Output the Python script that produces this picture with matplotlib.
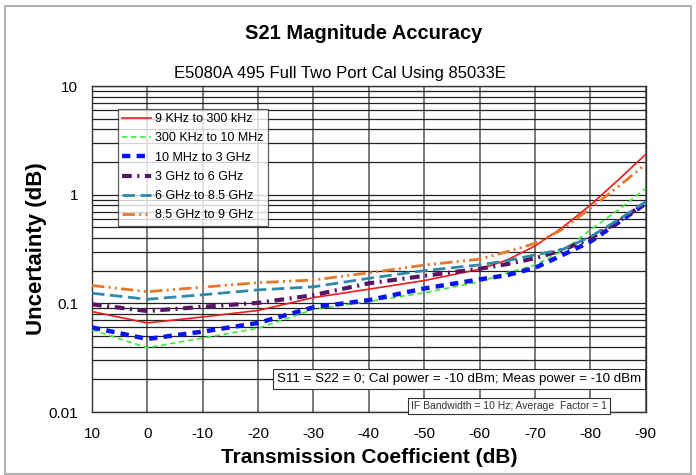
import matplotlib
matplotlib.use('Agg')
import matplotlib.pyplot as plt
from matplotlib.patches import Rectangle
from matplotlib.ticker import FixedLocator, LogLocator, NullFormatter

plt.rcParams['font.family'] = ['Liberation Sans', 'DejaVu Sans']
plt.rcParams['lines.scale_dashes'] = False

# transmission coefficient (dB)
x_vals = [10, 0, -10, -20, -30, -40, -50, -60, -65, -70, -75, -80, -85, -90]

# uncertainty (dB) per frequency band
unc_9k_300k = [0.084, 0.066, 0.075, 0.086, 0.113, 0.135, 0.162, 0.206, 0.251, 0.337, 0.50, 0.80, 1.36, 2.35]
unc_300k_10m = [0.057, 0.039, 0.048, 0.059, 0.088, 0.104, 0.125, 0.158, 0.191, 0.225, 0.303, 0.473, 0.72, 1.14]
unc_10m_3g = [0.060, 0.047, 0.055, 0.066, 0.092, 0.107, 0.137, 0.166, 0.182, 0.212, 0.279, 0.369, 0.552, 0.83]
unc_3g_6g = [0.098, 0.085, 0.093, 0.101, 0.119, 0.153, 0.179, 0.208, 0.23, 0.26, 0.31, 0.396, 0.564, 0.84]
unc_6g_85g = [0.124, 0.109, 0.120, 0.133, 0.142, 0.170, 0.20, 0.226, 0.247, 0.279, 0.314, 0.41, 0.585, 0.86]
unc_85g_9g = [0.146, 0.128, 0.141, 0.155, 0.164, 0.191, 0.225, 0.255, 0.299, 0.356, 0.48, 0.75, 1.18, 1.91]

labels = ['9 KHz to 300 kHz', '300 KHz to 10 MHz', '10 MHz to 3 GHz',
          '3 GHz to 6 GHz', '6 GHz to 8.5 GHz', '8.5 GHz to 9 GHz']
series = [unc_9k_300k, unc_300k_10m, unc_10m_3g, unc_3g_6g, unc_6g_85g, unc_85g_9g]
colors = ['#ee1c1c', '#3ee83e', '#0a14f0', '#5a1466', '#2e8aa8', '#e6782c']
widths = [1.2, 1.2, 3.2, 3.0, 2.0, 2.0]
dashes = [None, (4, 2.5), (6, 4.5), (7, 4, 1.5, 4), (9, 4), (9, 3, 1.5, 3, 1.5, 3)]
x_ticks = [10, 0, -10, -20, -30, -40, -50, -60, -70, -80, -90]

fig = plt.figure(figsize=(6.96, 4.75), dpi=100)
ax = fig.add_axes([0.1322, 0.1326, 0.7955, 0.6863])

for y, lab, c, lw, d in zip(series, labels, colors, widths, dashes):
    line, = ax.plot(x_vals, y, color=c, lw=lw, label=lab, zorder=3)
    if d is not None:
        line.set_dashes(d)

ax.set_yscale('log')
ax.set_ylim(0.01, 10)
ax.set_xlim(10, -90)
ax.xaxis.set_major_locator(FixedLocator(x_ticks))
ax.set_xticklabels([str(t) for t in x_ticks])
ax.yaxis.set_major_locator(FixedLocator([0.01, 0.1, 1, 10]))
ax.set_yticklabels(['0.01', '0.1', '1', '10'])
ax.yaxis.set_minor_locator(LogLocator(base=10, subs=range(2, 10)))
ax.yaxis.set_minor_formatter(NullFormatter())
ax.tick_params(axis='both', which='both', length=0, labelsize=11)
ax.tick_params(axis='x', pad=11)
ax.tick_params(axis='y', pad=10)

ax.grid(True, axis='y', which='both', color='#222222', lw=0.9)
ax.grid(True, axis='x', which='major', color='#555555', lw=1.1)
for s in ax.spines.values():
    s.set_color('#333333')
    s.set_linewidth(1.0)

ax.set_xlabel('Transmission Coefficient (dB)', fontsize=15, fontweight='bold', labelpad=5)
ax.set_ylabel('Uncertainty (dB)', fontsize=16, fontweight='bold', labelpad=1)

leg = ax.legend(loc='upper left', bbox_to_anchor=(0.047, 0.93), fontsize=9,
                frameon=True, fancybox=False, handlelength=2.3, handletextpad=0.3,
                labelspacing=0.58, borderpad=0.35, borderaxespad=0)
leg.get_frame().set_edgecolor('#333333')
leg.get_frame().set_linewidth(0.9)
leg.set_zorder(5)

fig.text(0.522, 0.93, 'S21 Magnitude Accuracy', ha='center', va='center',
         fontsize=14.5, fontweight='bold')
fig.text(0.489, 0.846, 'E5080A 495 Full Two Port Cal Using 85033E', ha='center', va='center',
         fontsize=12, bbox=dict(facecolor='white', edgecolor='none', pad=3), zorder=10)

ax.text(0.992, 0.101, 'S11 = S22 = 0; Cal power = -10 dBm; Meas power = -10 dBm',
        transform=ax.transAxes, ha='right', va='center', fontsize=9.6, zorder=6,
        bbox=dict(facecolor='white', edgecolor='#333333', lw=0.8, pad=3))
ax.text(0.93, 0.018, 'IF Bandwidth = 10 Hz; Average  Factor = 1',
        transform=ax.transAxes, ha='right', va='center', fontsize=7.5, color='#333333', zorder=6,
        bbox=dict(facecolor='white', edgecolor='#333333', lw=0.8, pad=2))

fig.patches.append(Rectangle((5 / 696, 1 / 475), 686 / 696, 468 / 475, transform=fig.transFigure,
                             fill=False, edgecolor='#b0b0b0', lw=1.5))

fig.savefig('out.png', dpi=100)
